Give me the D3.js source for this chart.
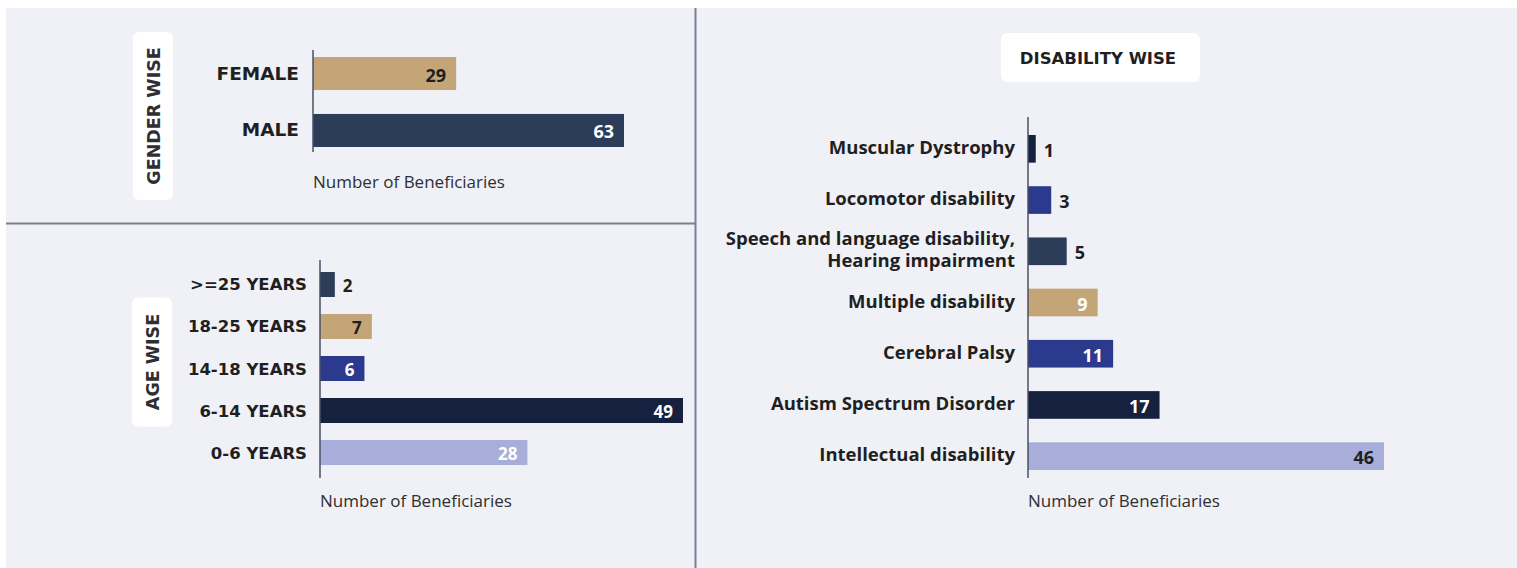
<!DOCTYPE html>
<html>
<head>
<meta charset="utf-8">
<script src="https://cdn.jsdelivr.net/npm/d3@7"></script>
<style>
  body { margin: 0; background: #ffffff; }
  svg { display: block; }
</style>
</head>
<body>
<svg id="chart" width="1517" height="568"></svg>
<script>
'use strict'

// ---------------------------------------------------------------- DATA
const genderCategories = ['FEMALE', 'MALE']
const genderValues = [29, 63]

const ageCategories = ['>=25 YEARS', '18-25 YEARS', '14-18 YEARS', '6-14 YEARS', '0-6 YEARS']
const ageValues = [2, 7, 6, 49, 28]

const disabilityCategories = [
  'Muscular Dystrophy',
  'Locomotor disability',
  'Speech and language disability,|Hearing impairment',
  'Multiple disability',
  'Cerebral Palsy',
  'Autism Spectrum Disorder',
  'Intellectual disability'
]
const disabilityValues = [1, 3, 5, 9, 11, 17, 46]

const axisTitle = 'Number of Beneficiaries'

// ---------------------------------------------------------------- COLOURS
const tan = '#c4a577', slate = '#2b3d59', navy = '#15213f', blue = '#2c3a8e', lilac = '#a7aed9'
const dark = '#1f1f22', white = '#ffffff'

const genderColors = [tan, slate]
const genderLabelColors = [dark, white]
const ageColors = [slate, tan, blue, navy, lilac]
const ageLabelColors = [dark, dark, white, white, white]
const disabilityColors = [navy, blue, slate, tan, blue, navy, lilac]
const disabilityLabelColors = [dark, dark, dark, white, white, white, dark]

const svg = d3.select('#chart')

// ---------------------------------------------------------------- BACKGROUND
svg.append('rect')
  .attr('x', 6).attr('y', 8)
  .attr('width', 1511).attr('height', 560)
  .attr('fill', '#f0f1f6')

svg.append('line')
  .attr('x1', 695.5).attr('x2', 695.5)
  .attr('y1', 8).attr('y2', 568)
  .attr('stroke', '#7b7f95').attr('stroke-width', 2)

svg.append('line')
  .attr('x1', 6).attr('x2', 695)
  .attr('y1', 223.5).attr('y2', 223.5)
  .attr('stroke', '#7b7f95').attr('stroke-width', 2)

// ---------------------------------------------------------------- PANEL
function drawPanel(opt) {
  let g = svg.append('g')

  let x = d3.scaleLinear()
    .domain([0, opt.max])
    .range([opt.x0, opt.x1])

  let y = d3.scaleBand()
    .domain(opt.categories)
    .range(opt.yRange)
    .paddingInner(opt.pad)
    .paddingOuter(0)

  // category labels
  let yAxis = d3.axisLeft(y)
    .tickSize(0)
    .tickPadding(opt.tickPad)
    .tickFormat(() => '')

  let ax = g.append('g')
    .attr('transform', 'translate(' + opt.x0 + ',0)')
    .call(yAxis)
  ax.select('.domain').remove()

  ax.selectAll('.tick').each(function(d) {
    let lines = d.split('|')
    let t = d3.select(this).select('text')
      .attr('font-family', opt.labelFont)
      .attr('font-weight', 700)
      .attr('font-size', opt.labelSize)
      .attr('fill', dark)
      .attr('dy', null)
      .attr('dominant-baseline', 'central')
    lines.forEach((ln, i) => {
      t.append('tspan')
        .attr('x', -opt.tickPad)
        .attr('y', (i - (lines.length - 1) / 2) * opt.lineHeight + opt.labelShift)
        .text(ln)
    })
  })

  // bars
  g.selectAll('rect.bar')
    .data(opt.values)
    .enter()
    .append('rect')
      .attr('class', 'bar')
      .attr('x', x(0))
      .attr('y', (d, i) => y(opt.categories[i]))
      .attr('width', d => x(d) - x(0))
      .attr('height', y.bandwidth())
      .attr('fill', (d, i) => opt.colors[i])

  // axis line
  g.append('line')
    .attr('x1', opt.x0).attr('x2', opt.x0)
    .attr('y1', opt.lineY[0]).attr('y2', opt.lineY[1])
    .attr('stroke', '#4a4f66').attr('stroke-width', 1.5)

  // value labels
  g.selectAll('text.val')
    .data(opt.values)
    .enter()
    .append('text')
      .attr('class', 'val')
      .attr('font-family', 'Open Sans, sans-serif')
      .attr('font-weight', 700)
      .attr('font-size', opt.valueSize)
      .attr('dominant-baseline', 'central')
      .attr('fill', (d, i) => opt.labelColors[i])
      .each(function(d, i) {
        let inside = x(d) - x(0) > 42
        d3.select(this)
          .attr('x', inside ? x(d) - 10 : x(d) + 8)
          .attr('y', y(opt.categories[i]) + y.bandwidth() / 2 + 1)
          .attr('text-anchor', inside ? 'end' : 'start')
          .text(d)
      })

  // axis title
  g.append('text')
    .attr('x', opt.x0)
    .attr('y', opt.titleY)
    .attr('font-family', 'Open Sans, sans-serif')
    .attr('font-size', 17)
    .attr('fill', '#2e2e33')
    .text(axisTitle)
}

function sideTag(cx, cy, w, h, label) {
  svg.append('rect')
    .attr('x', cx - w / 2).attr('y', cy - h / 2)
    .attr('width', w).attr('height', h)
    .attr('rx', 6)
    .attr('fill', '#ffffff')
  svg.append('text')
    .attr('transform', 'translate(' + (cx + 1) + ',' + cy + ') rotate(-90)')
    .attr('text-anchor', 'middle')
    .attr('dominant-baseline', 'central')
    .attr('font-family', 'DejaVu Sans, sans-serif')
    .attr('font-weight', 700)
    .attr('font-size', 17.5)
    .attr('fill', '#2e2e33')
    .text(label)
}

// ---------------------------------------------------------------- GENDER
sideTag(153, 116, 40, 168, 'GENDER WISE')
drawPanel({
  categories: genderCategories, values: genderValues,
  colors: genderColors, labelColors: genderLabelColors,
  max: 63, x0: 313, x1: 624,
  yRange: [57, 147], pad: 0.42, lineY: [50, 152],
  tickPad: 14, labelFont: 'DejaVu Sans, sans-serif', labelSize: 18.5, lineHeight: 20, labelShift: -1,
  valueSize: 18, titleY: 188
})

// ---------------------------------------------------------------- AGE
sideTag(152, 362, 40, 129, 'AGE WISE')
drawPanel({
  categories: ageCategories, values: ageValues,
  colors: ageColors, labelColors: ageLabelColors,
  max: 49, x0: 320, x1: 683,
  yRange: [272, 465], pad: 0.405, lineY: [260, 478],
  tickPad: 13, labelFont: 'DejaVu Sans, sans-serif', labelSize: 16.5, lineHeight: 20, labelShift: 0,
  valueSize: 17, titleY: 507
})

// ---------------------------------------------------------------- DISABILITY
svg.append('rect')
  .attr('x', 1001).attr('y', 33)
  .attr('width', 199).attr('height', 49)
  .attr('rx', 6)
  .attr('fill', '#ffffff')
svg.append('text')
  .attr('x', 1098).attr('y', 58)
  .attr('text-anchor', 'middle')
  .attr('dominant-baseline', 'central')
  .attr('font-family', 'DejaVu Sans, sans-serif')
  .attr('font-weight', 700)
  .attr('font-size', 16.5)
  .attr('fill', '#1f1f22')
  .text('DISABILITY WISE')

drawPanel({
  categories: disabilityCategories, values: disabilityValues,
  colors: disabilityColors, labelColors: disabilityLabelColors,
  max: 46, x0: 1028, x1: 1384,
  yRange: [135, 470], pad: 0.46, lineY: [117, 478],
  tickPad: 13, labelFont: 'Open Sans, sans-serif', labelSize: 18.5, lineHeight: 22, labelShift: -3,
  valueSize: 18, titleY: 507
})
</script>
</body>
</html>
